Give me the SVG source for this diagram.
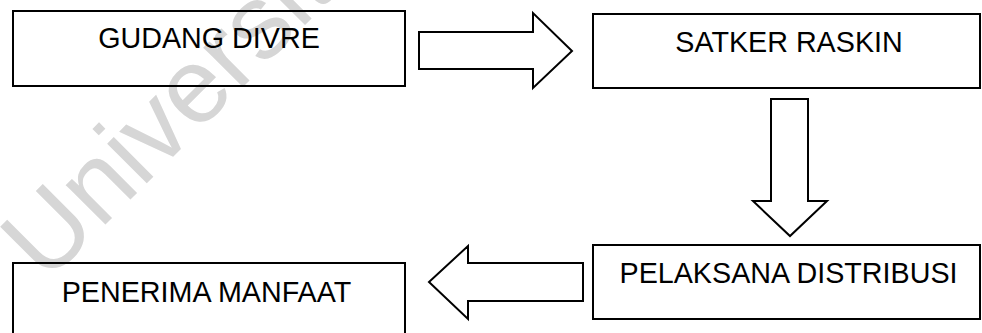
<svg xmlns="http://www.w3.org/2000/svg" width="982" height="333" viewBox="0 0 982 333">
<style>
.box{fill:none;stroke:#000;stroke-width:2}
.arr{fill:#fff;stroke:#000;stroke-width:2;stroke-linejoin:miter}
.lbl{font-family:"Liberation Sans",Arial,sans-serif;font-size:28.7px;fill:#000;text-anchor:middle}
.wm{font-family:"Liberation Sans",Arial,sans-serif;font-size:106px;fill:#d6d6d6}
</style>
<rect width="982" height="333" fill="#fff"/>
<text class="wm" transform="translate(46,284) rotate(-45)">Universitas</text>
<g id="connectors">
<polygon class="arr" points="419,32 533,32 533,13 572,51 533,88 533,69 419,69"/>
<polygon class="arr" points="771,99 808,99 808,201 827,201 790,236 753,201 771,201"/>
<polygon class="arr" points="583,263 468,263 468,246 429,282 468,319 468,301 583,301"/>
</g>
<g id="gudang-divre">
<rect class="box" x="13" y="11" width="392" height="75"/>
<text class="lbl" x="209" y="48">GUDANG DIVRE</text>
</g>
<g id="satker-raskin">
<rect class="box" x="593" y="14" width="387" height="74"/>
<text class="lbl" x="789" y="52">SATKER RASKIN</text>
</g>
<g id="pelaksana-distribusi">
<rect class="box" x="593" y="245" width="387" height="74"/>
<text class="lbl" x="788.5" y="283">PELAKSANA DISTRIBUSI</text>
</g>
<g id="penerima-manfaat">
<rect class="box" x="13" y="263" width="392" height="80"/>
<text class="lbl" x="206.5" y="302">PENERIMA MANFAAT</text>
</g>
</svg>
